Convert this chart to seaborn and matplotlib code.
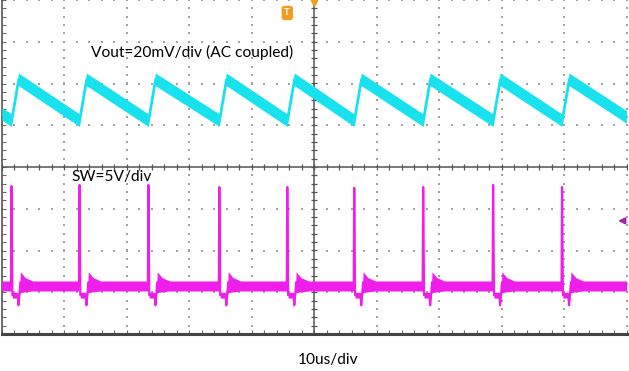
import numpy as np
import matplotlib
matplotlib.use("Agg")
import matplotlib.pyplot as plt
import seaborn as sns

sns.set_theme(style="white")
plt.rcParams['font.family'] = ['Lato', 'DejaVu Sans']

# values (x in us, y in divisions from centre)
sw_edges = [1.52, 12.40, 23.44, 34.80, 45.68, 56.40, 67.44, 78.64, 89.68]
sw_peak = [-0.46, -0.43, -0.43, -0.48, -0.48, -0.50, -0.48, -0.43, -0.48]
sw_base = -2.85
sw_low = -3.07
sw_dip = -3.31
sw_ring = -2.76

vout_peak = [2.10, 2.10, 2.10, 2.10, 2.10, 2.10, 2.10, 2.10, 2.10]
vout_trough = [1.12, 1.12, 1.12, 1.12, 1.12, 1.12, 1.12, 1.12, 1.12]
vout_start = 1.27
vout_end = 1.20
vout_rise = 1.12

cyan = "#17E2EE"
magenta = "#F01EEA"

# build the traces from the read keypoints
vx, vy = [0.0], [vout_start]
for t, lo, hi in zip(sw_edges, vout_trough, vout_peak):
    vx += [t, t + vout_rise]
    vy += [lo, hi]
vx.append(100.0)
vy.append(vout_end)
vx, vy = np.array(vx), np.array(vy)

hb = 0.12
sx, sy, sh = [0.0], [sw_base], [hb]
for t, pk in zip(sw_edges, sw_peak):
    sx += [t - 0.08, t, t + 0.14, t + 1.0, t + 1.12, t + 1.3, t + 1.42, t + 2.2, t + 3.4]
    sy += [sw_base, pk, sw_low, sw_low, sw_dip, -3.0, sw_ring, -2.82, sw_base]
    sh += [hb, 0.01, 0.07, 0.07, 0.04, 0.05, 0.25, 0.17, hb]
sx.append(100.0)
sy.append(sw_base)
sh.append(hb)
sx, sy, sh = np.array(sx), np.array(sy), np.array(sh)

fig = plt.figure(figsize=(6.29, 3.71), dpi=100)
ax = fig.add_axes([2 / 629, 37 / 371, 624.5 / 629, 334 / 371])
ax.set_xlim(0, 100)
ax.set_ylim(-4, 4)

# graticule
dot = "#a3a3a3"
ymin = np.arange(-4, 4.001, 0.2)
xmin = np.arange(0, 100.001, 2)
for gx in [10, 20, 30, 40, 60, 70, 80, 90, 100]:
    ax.scatter(np.full(len(ymin), gx), ymin, s=2, color=dot, lw=0, marker="s", clip_on=False, zorder=1)
for gy in [-3, -2, -1, 1, 2, 3, 4]:
    ax.scatter(xmin, np.full(len(xmin), gy), s=2, color=dot, lw=0, marker="s", clip_on=False, zorder=1)
ax.axvline(50, color="#555555", lw=1.1, zorder=1)
ax.axhline(0, color="#555555", lw=1.1, zorder=1)
ax.plot(np.full(len(ymin), 50), ymin, ls="", marker="_", ms=5, mew=0.9, color="#555555", zorder=1)
ax.plot(xmin, np.zeros(len(xmin)), ls="", marker="|", ms=5, mew=0.9, color="#555555", zorder=1)

for s in ["top", "right"]:
    ax.spines[s].set_visible(False)
ax.spines["left"].set_color("#555555")
ax.spines["left"].set_linewidth(1.2)
ax.spines["bottom"].set_color("#444444")
ax.spines["bottom"].set_linewidth(2.2)
ax.xaxis.set_major_locator(plt.MultipleLocator(2))
ax.yaxis.set_major_locator(plt.MultipleLocator(0.2))
ax.tick_params(which="both", direction="in", length=3, width=0.8, color="#666666",
               labelbottom=False, labelleft=False, bottom=True, left=True)

# traces
ax.fill_between(vx, vy - 0.15, vy + 0.15, color=cyan, lw=0, zorder=3)
sns.lineplot(x=vx, y=vy, sort=False, estimator=None, color=cyan, lw=1.6, ax=ax, zorder=3)
ax.fill_between(sx, sy - sh, sy + sh, color=magenta, lw=0, zorder=3)
sns.lineplot(x=sx, y=sy, sort=False, estimator=None, color=magenta, lw=1.6, ax=ax, zorder=3)

# markers
ax.text(45.68, 3.69, "T", ha="center", va="center", color="white", fontsize=7,
        weight="bold", bbox=dict(boxstyle="round,pad=0.28", fc="#F39C1F", ec="none"), zorder=5)
ax.plot([50], [3.97], marker="v", ms=7, color="#F39C1F", clip_on=False, zorder=5)
ax.annotate("", xy=(98.2, -1.29), xytext=(100, -1.29),
            arrowprops=dict(arrowstyle="-|>", color="#A81FAE", lw=1.5, mutation_scale=9), zorder=5)

fig.text(91 / 629, 1 - 52 / 371, "Vout=20mV/div (AC coupled)", ha="left", va="center", fontsize=11.2, color="black")
fig.text(71 / 629, 1 - 177 / 371, "SW=5V/div", ha="left", va="center", fontsize=11.2, color="black")
fig.text(328 / 629, 1 - 360 / 371, "10us/div", ha="center", va="center", fontsize=11.2, color="black")

fig.savefig("out.png", dpi=100)
